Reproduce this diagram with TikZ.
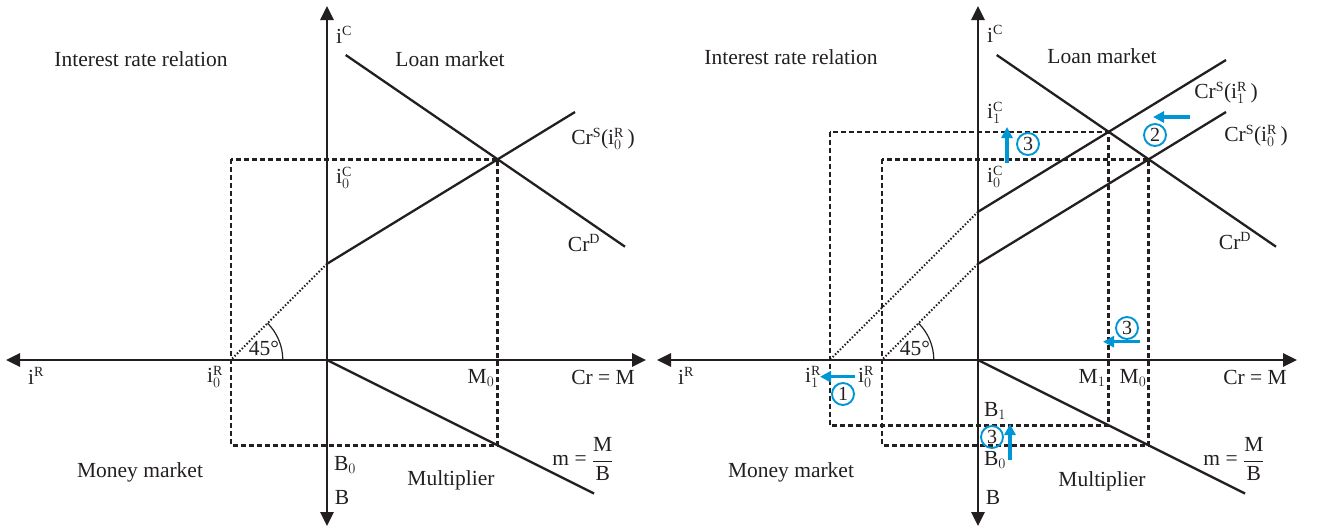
\documentclass[tikz,border=0pt]{standalone}
\usepackage{fontspec}
\setmainfont{Liberation Serif}
\usetikzlibrary{arrows.meta}
\definecolor{ink}{RGB}{35,31,32}
\definecolor{cblue}{RGB}{0,150,214}
\DeclareMathSizes{21.5}{21.5}{14}{10}
\DeclareMathSizes{20}{20}{13}{9}
\begin{document}
\begin{tikzpicture}[x=1pt,y=-1pt,
  every node/.style={font=\fontsize{21.5}{25}\selectfont, text=ink, inner sep=0pt},
  axis/.style={line width=2.8pt, draw=ink, {Triangle[length=14pt,width=13pt]}-{Triangle[length=14pt,width=13pt]}},
  curve/.style={line width=2.3pt, draw=ink},
  guide/.style={line width=2.5pt, draw=ink, dash pattern=on 5pt off 3pt},
  diag/.style={line width=2pt, draw=ink, dash pattern=on 1.5pt off 1.9pt},
  anglearc/.style={line width=1.2pt, draw=ink},
  shiftarrow/.style={line width=3.2pt, draw=cblue, -{Triangle[length=11pt,width=11pt]}},
  numc/.style={circle, draw=cblue, line width=1.9pt, inner sep=0pt, minimum size=22pt, font=\fontsize{20}{22}\selectfont}]
\useasboundingbox (0,0) rectangle (1321,528);

% ================= LEFT PANEL =================
\coordinate (LTop) at (327,6);
\coordinate (LBot) at (327,526);
\coordinate (LLeft) at (6,360);
\coordinate (LRight) at (646,360);
\coordinate (LO) at (327,360);
\coordinate (LDa) at (345.7,55);
\coordinate (LDb) at (625,246.7);
\coordinate (LSa) at (327,263.8);
\coordinate (LSb) at (575,112);
\coordinate (LE) at (497.7,159.3);
\coordinate (LF) at (230.8,360);
\coordinate (LArcS) at (282.8,360);
\coordinate (LMa) at (594,493.5);
\coordinate (LRb) at (497.7,445.35);
\coordinate (LRa) at (230.8,159.3);

\draw[guide] (LRa) rectangle (LRb);
\draw[diag] (LSa) -- (LF);
\draw[anglearc] (LArcS) arc[start angle=0,end angle=-45,radius=52];
\draw[curve] (LDa) -- (LDb);
\draw[curve] (LSa) -- (LSb);
\draw[curve] (LO) -- (LMa);
\draw[axis] (LLeft) -- (LRight);
\draw[axis] (LBot) -- (LTop);

\node (lirr) at (141,59) {Interest rate relation};
\node (lic) at (344,35) {i$^{\mathrm{C}}$};
\node (lloan) at (450,59) {Loan market};
\node (lcrs) at (603,139) {Cr$^{\mathrm{S}}$(i$_0^{\mathrm{R}}$\,)};
\node (lic0) at (344,178) {i$_0^{\mathrm{C}}$};
\node (lcrd) at (584,243) {Cr$^{\mathrm{D}}$};
\node (l45) at (264,348) {45°};
\node (lir) at (36,376) {i$^{\mathrm{R}}$};
\node (lir0) at (215,377) {i$_0^{\mathrm{R}}$};
\node (lm0) at (481,378) {M$_0$};
\node (lcrm) at (603,377) {Cr = M};
\node (lb0) at (345,465) {B$_0$};
\node (lmoney) at (140,472) {Money market};
\node (lb) at (342,497) {B};
\node (lmult) at (451,480) {Multiplier};
\node (lmfrac) at (583,459) {m = $\displaystyle\frac{\mathrm{M}}{\mathrm{B}}$};

% ================= RIGHT PANEL =================
\coordinate (RTop) at (978,6);
\coordinate (RBot) at (978,526);
\coordinate (RLeft) at (657,360);
\coordinate (RRight) at (1297,360);
\coordinate (RO) at (978,360);
\coordinate (RDa) at (996.7,55);
\coordinate (RDb) at (1276,246.7);
\coordinate (RS0a) at (978,263.8);
\coordinate (RS0b) at (1226,112);
\coordinate (RS1a) at (978,211.8);
\coordinate (RS1b) at (1226,60);
\coordinate (RF0) at (881.8,360);
\coordinate (RF1) at (829.8,360);
\coordinate (RArcS) at (933.8,360);
\coordinate (RMa) at (1245,493.5);
\coordinate (RR0a) at (881.8,159.3);
\coordinate (RR0b) at (1148.7,445.35);
\coordinate (RR1a) at (829.8,131.8);
\coordinate (RR1b) at (1108.6,425.3);

\draw[guide] (RR1a) rectangle (RR1b);
\draw[guide] (RR0a) rectangle (RR0b);
\draw[diag] (RS0a) -- (RF0);
\draw[diag] (RS1a) -- (RF1);
\draw[anglearc] (RArcS) arc[start angle=0,end angle=-45,radius=52];
\draw[curve] (RDa) -- (RDb);
\draw[curve] (RS0a) -- (RS0b);
\draw[curve] (RS1a) -- (RS1b);
\draw[curve] (RO) -- (RMa);
\draw[axis] (RLeft) -- (RRight);
\draw[axis] (RBot) -- (RTop);

\node (rirr) at (791,57) {Interest rate relation};
\node (ric) at (995,34) {i$^{\mathrm{C}}$};
\node (rloan) at (1102,56) {Loan market};
\node (rcrs1) at (1226,93) {Cr$^{\mathrm{S}}$(i$_1^{\mathrm{R}}$\,)};
\node (rcrs0) at (1256,136) {Cr$^{\mathrm{S}}$(i$_0^{\mathrm{R}}$\,)};
\node (ric1) at (995,113) {i$_1^{\mathrm{C}}$};
\node (ric0) at (995,177) {i$_0^{\mathrm{C}}$};
\node (rcrd) at (1235,241) {Cr$^{\mathrm{D}}$};
\node (r45) at (915,348) {45°};
\node (rir) at (686,376) {i$^{\mathrm{R}}$};
\node (rir1) at (813,377) {i$_1^{\mathrm{R}}$};
\node (rir0) at (866,377) {i$_0^{\mathrm{R}}$};
\node (rm1) at (1092,378) {M$_1$};
\node (rm0) at (1133,378) {M$_0$};
\node (rcrm) at (1255,377) {Cr = M};
\node (rb1) at (995,411) {B$_1$};
\node (rb0) at (995,460) {B$_0$};
\node (rb) at (993,497) {B};
\node (rmoney) at (791,472) {Money market};
\node (rmult) at (1102,481) {Multiplier};
\node (rmfrac) at (1234,459) {m = $\displaystyle\frac{\mathrm{M}}{\mathrm{B}}$};

% circled step numbers
\node[numc] (c1) at (843,394) {1};
\node[numc] (c2) at (1155,135) {2};
\node[numc] (c3a) at (1028,144) {3};
\node[numc] (c3b) at (1127,328) {3};
\node[numc] (c3c) at (992,437) {3};

% blue shift arrows
\coordinate (a1s) at (855,376.7); \coordinate (a1e) at (820,376.7);
\coordinate (a2s) at (1190,117); \coordinate (a2e) at (1153,117);
\coordinate (a3s) at (1007,163); \coordinate (a3e) at (1007,127);
\coordinate (a4s) at (1140,341.7); \coordinate (a4e) at (1103,341.7);
\coordinate (a5s) at (1010,460); \coordinate (a5e) at (1010,424);
\draw[shiftarrow] (a1s) -- (a1e);
\draw[shiftarrow] (a2s) -- (a2e);
\draw[shiftarrow] (a3s) -- (a3e);
\draw[shiftarrow] (a4s) -- (a4e);
\draw[shiftarrow] (a5s) -- (a5e);
\end{tikzpicture}
\end{document}
